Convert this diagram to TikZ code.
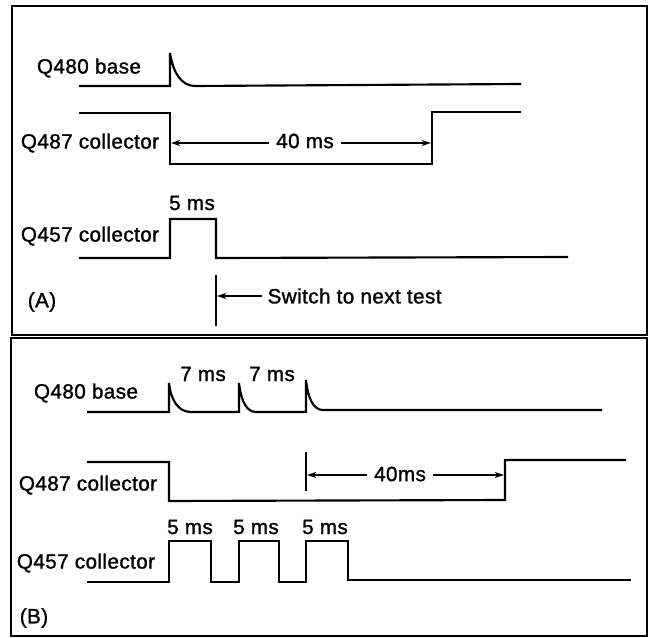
\documentclass[tikz,border=0pt]{standalone}
\usepackage{fontspec}
\setmainfont[FakeBold=1.3,LetterSpace=2]{Liberation Sans}
\usetikzlibrary{arrows.meta}
\begin{document}
\begin{tikzpicture}[x=0.75pt,y=-0.75pt,
  wave/.style={line width=1.6pt, line join=miter},
  frame/.style={line width=2.2pt},
  lbl/.style={font=\fontsize{15.5}{18}\selectfont, inner sep=0pt},
  dimtxt/.style={lbl, inner xsep=5pt},
  dimarrow/.style={line width=0.9pt, -{Stealth[length=7pt,width=4.5pt]}},
  marker/.style={line width=1.2pt}]
\useasboundingbox (0,0) rectangle (650,638);
% frames
\draw[frame] (12,6) rectangle (647,335);
\draw[frame] (11,338) rectangle (647,636);

% ---------------- Panel A ----------------
\node[lbl] (a480) at (89,68) {Q480 base};
\node[lbl] (a487) at (90,143) {Q487 collector};
\node[lbl] (a457) at (90,236) {Q457 collector};
\node[lbl] (aA) at (42,302) {(A)};

\draw[wave] (79,86) -- (170,86) -- (170,53) .. controls (173,72) and (181,86) .. (195,86) -- (521,84);
\draw[wave] (79,113) -- (170,113) -- (170,164) -- (432,164) -- (432,112) -- (521,112);
\draw[wave] (79,258) -- (170,258) -- (170,219) -- (216,219) -- (216,258) -- (568,257);

\coordinate (aL) at (171,143);
\coordinate (aR) at (431,143);
\node[dimtxt] (a40) at (305,141) {40 ms};
\draw[dimarrow] (a40.west |- aL) -- (aL);
\draw[dimarrow] (a40.east |- aR) -- (aR);

\node[lbl] (a5) at (192,203) {5 ms};

\coordinate (swtop) at (216,275);
\coordinate (swbot) at (216,326);
\draw[marker] (swtop) -- (swbot);
\coordinate (swp) at (217,296);
\node[lbl, anchor=west, inner xsep=4pt] (sw) at (262,296) {Switch to next test};
\draw[dimarrow] (sw.west |- swp) -- (swp);

% ---------------- Panel B ----------------
\node[lbl] (b480) at (86,393) {Q480 base};
\node[lbl] (b487) at (88,485) {Q487 collector};
\node[lbl] (b457) at (86,563) {Q457 collector};
\node[lbl] (bB) at (34,618) {(B)};

\draw[wave] (87,412) -- (169,412) -- (169,383) .. controls (171,400) and (178,412) .. (191,412)
  -- (239,412) -- (239,383) .. controls (241,400) and (246,412) .. (256,412)
  -- (306,412) -- (306,380) .. controls (308,398) and (313,410) .. (323,410) -- (602,410);
\node[lbl] (b7a) at (203,374) {7 ms};
\node[lbl] (b7b) at (272,374) {7 ms};

\draw[wave] (87,462) -- (169,462) -- (169,501) -- (505,500) -- (505,460) -- (626,460);
\coordinate (bmtop) at (306,452);
\coordinate (bmbot) at (306,491);
\draw[marker] (bmtop) -- (bmbot);
\coordinate (bL) at (307,475);
\coordinate (bR) at (504,475);
\node[dimtxt] (b40) at (400,474) {40ms};
\draw[dimarrow] (b40.west |- bL) -- (bL);
\draw[dimarrow] (b40.east |- bR) -- (bR);

\draw[wave] (87,582) -- (169,582) -- (169,541) -- (211,541) -- (211,582) -- (239,582) -- (239,541)
  -- (279,541) -- (279,582) -- (306,582) -- (306,541) -- (348,541) -- (348,580) -- (631,580);
\node[lbl] (b5a) at (190,527) {5 ms};
\node[lbl] (b5b) at (256,527) {5 ms};
\node[lbl] (b5c) at (325,527) {5 ms};
\end{tikzpicture}
\end{document}
